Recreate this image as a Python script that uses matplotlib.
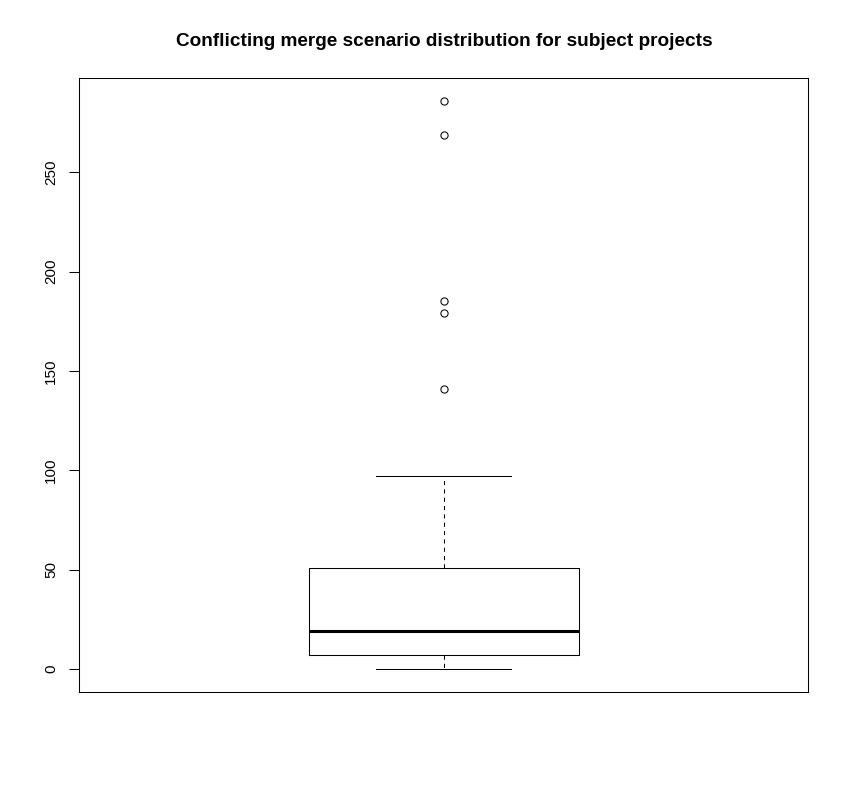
import matplotlib
matplotlib.use("Agg")
import matplotlib.pyplot as plt

# five-number summary
lower_whisker = 0
q1 = 7
median = 19
q3 = 51
upper_whisker = 97
outliers = [141, 179, 185, 269, 286]

yticks = [0, 50, 100, 150, 200, 250]

plt.rcParams["font.family"] = ["Liberation Sans", "DejaVu Sans"]

fig = plt.figure(figsize=(8.49, 7.91), dpi=100)
fig.patch.set_facecolor("white")
ax = fig.add_axes([0.0931, 0.1252, 0.8586, 0.7762])

stats = [{
    "whislo": lower_whisker, "q1": q1, "med": median, "q3": q3,
    "whishi": upper_whisker, "fliers": outliers,
}]

ax.bxp(
    stats, positions=[1], widths=0.4, capwidths=0.2,
    boxprops=dict(color="black", linewidth=0.75),
    medianprops=dict(color="black", linewidth=2.2, solid_capstyle="butt"),
    whiskerprops=dict(color="black", linewidth=0.75, linestyle=(0, (4, 4))),
    capprops=dict(color="black", linewidth=0.75),
    flierprops=dict(marker="o", markerfacecolor="none", markeredgecolor="black",
                    markersize=5.2, markeredgewidth=0.75),
)

# R style: 4% padding around data range
lo = min(lower_whisker, min(outliers))
hi = max(upper_whisker, max(outliers))
pad = (hi - lo) * 0.04
ax.set_ylim(lo - pad, hi + pad)
ax.set_xlim(0.46, 1.54)

ax.set_xticks([])
ax.set_yticks(yticks)
ax.set_yticklabels([str(t) for t in yticks], rotation=90, va="center", fontsize=11)
ax.tick_params(axis="y", length=7, width=0.75, pad=8, direction="out")

for s in ax.spines.values():
    s.set_linewidth(0.75)
    s.set_color("black")

fig.text(0.5235, 1 - 41 / 791, "Conflicting merge scenario distribution for subject projects",
         ha="center", va="center", fontsize=13.7, fontweight="bold")

fig.savefig("out.png", dpi=100)
